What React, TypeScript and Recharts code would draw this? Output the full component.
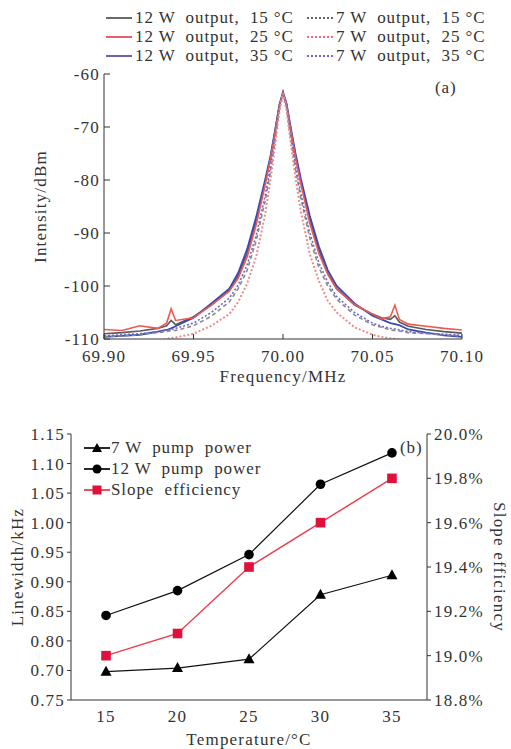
import { Line, LineChart, XAxis, YAxis } from "recharts";

// ---- panel (a): spectra ----
const FREQ = [
  69.9, 69.91, 69.92, 69.93, 69.935, 69.9375, 69.94, 69.95, 69.96, 69.97, 69.975, 69.98,
  69.985, 69.99, 69.993, 69.996, 69.998, 70.0, 70.002, 70.004, 70.007, 70.01, 70.015,
  70.02, 70.025, 70.03, 70.04, 70.05, 70.055, 70.06, 70.0625, 70.065, 70.07, 70.08,
  70.09, 70.1,
];
const OUT12_15 = [
  -109, -108.8, -108.5, -108, -107.5, -106.5, -107.3, -105.8, -103.6, -100.8, -98, -93.8,
  -87.8, -80.6, -75.8, -70, -65.9, -63.5, -65.8, -69.8, -75.4, -80.3, -87.5, -93.2, -97.6,
  -100.5, -103.6, -105.3, -106, -106.3, -105.6, -106.8, -107.6, -108.2, -108.6, -108.9,
];
const OUT12_25 = [
  -108.2, -108.4, -107.5, -108, -107, -104.3, -106.5, -106, -103.6, -101, -98.5, -94.5,
  -88.5, -81, -76, -70.2, -66, -63.5, -65.9, -70, -75.8, -80.8, -88.2, -93.8, -97.8,
  -100.6, -103.5, -105.3, -106.2, -105.8, -103.6, -106.3, -107.2, -107.6, -108, -108.3,
];
const OUT12_35 = [
  -109.6, -109.4, -109.2, -108.6, -108.3, -108, -107.6, -106, -103.3, -100.5, -97.5, -93,
  -87, -80, -75.5, -69.8, -65.8, -63.4, -65.6, -69.5, -75, -79.8, -86.8, -92.5, -97, -100,
  -103.3, -105.6, -106.3, -107, -107.2, -107.4, -108.2, -108.8, -109.3, -109.6,
];
const OUT7_15 = [
  -109.6, -109.4, -109.2, -108.8, -108.6, -108.4, -108.4, -107.5, -105.7, -103, -100.5, -97,
  -91.5, -84, -78.5, -71.5, -66.5, -63.6, -66.4, -71.3, -78, -83.5, -91, -96.5, -100,
  -102.5, -105.5, -107.3, -107.8, -108.3, -108.4, -108.5, -108.8, -109, -109.2, -109.4,
];
const OUT7_25 = [
  -111, -111, -110.8, -110.3, -110, -109.8, -109.7, -109, -107.5, -105.3, -103, -99.5,
  -94.5, -86.5, -80, -72.5, -67, -63.7, -66.9, -72.2, -79.6, -86, -94, -99, -102.8, -105,
  -107.8, -109.2, -109.6, -109.9, -110, -110.2, -110.5, -110.8, -111, -111,
];
const OUT7_35 = [
  -109.4, -109.2, -109, -108.6, -108.3, -108.2, -108, -107, -105, -102.3, -99.8, -96, -90.5,
  -83, -77.5, -71, -66.2, -63.5, -66.1, -70.8, -77.2, -82.6, -90, -95.6, -99.3, -102, -105,
  -107, -107.6, -108, -108.1, -108.3, -108.6, -108.9, -109.1, -109.3,
];
const FREQ_TICKS = [69.9, 69.95, 70.0, 70.05, 70.1];
const DBM_TICKS = [-110, -100, -90, -80, -70, -60];

// ---- panel (b): linewidth ----
const TEMPS = [15, 20, 25, 30, 35];
const LW_7W = [0.748, 0.754, 0.769, 0.878, 0.911];
const LW_12W = [0.843, 0.885, 0.946, 1.065, 1.118];
const SLOPE = [19.0, 19.1, 19.4, 19.6, 19.8];
const LW_TICKS = [0.7, 0.75, 0.8, 0.85, 0.9, 0.95, 1.0, 1.05, 1.1, 1.15];
const LW_TICK_LABELS = ["0.75", "0.70", "0.80", "0.85", "0.90", "0.95", "1.00", "1.05", "1.10", "1.15"];
const SLOPE_TICKS = [18.8, 19.0, 19.2, 19.4, 19.6, 19.8, 20.0];

const spectra = FREQ.map((f, i) => ({
  f,
  s15: OUT12_15[i],
  s25: OUT12_25[i],
  s35: OUT12_35[i],
  d15: OUT7_15[i],
  d25: OUT7_25[i],
  d35: OUT7_35[i],
}));
const lwRows = TEMPS.map((t, i) => ({ t, w7: LW_7W[i], w12: LW_12W[i], slope: SLOPE[i] }));

const FONT = "'Liberation Serif', 'Times New Roman', serif";
const INK = "#333";
const tickStyle = { fill: INK, fontSize: 17, fontFamily: FONT };

const SERIES_A = [
  { key: "s15", color: "#5a5a5a", dash: undefined, width: 1.6 },
  { key: "s35", color: "#3a4cb2", dash: undefined, width: 1.8 },
  { key: "s25", color: "#ee5a52", dash: undefined, width: 1.6 },
  { key: "d15", color: "#8a8a8a", dash: "4 3", width: 1.6 },
  { key: "d35", color: "#6a6ac8", dash: "2 2", width: 1.6 },
  { key: "d25", color: "#f08a8a", dash: "2 2", width: 2 },
];

const LEGEND_A = [
  { col: 0, row: 0, color: "#5a5a5a", dash: undefined, text: "12 W  output,  15 °C" },
  { col: 0, row: 1, color: "#ec4a5a", dash: undefined, text: "12 W  output,  25 °C" },
  { col: 0, row: 2, color: "#6050a8", dash: undefined, text: "12 W  output,  35 °C" },
  { col: 1, row: 0, color: "#666", dash: "2 2", text: "7 W  output,  15 °C" },
  { col: 1, row: 1, color: "#f06a7a", dash: "2 2", text: "7 W  output,  25 °C" },
  { col: 1, row: 2, color: "#6a6ac8", dash: "2 2", text: "7 W  output,  35 °C" },
];

function Triangle(props: any) {
  const { cx, cy } = props;
  if (cx == null || cy == null) return <g />;
  return <polygon points={`${cx},${cy - 6} ${cx - 5.5},${cy + 4} ${cx + 5.5},${cy + 4}`} fill="#000" />;
}
function Dot(props: any) {
  const { cx, cy } = props;
  if (cx == null || cy == null) return <g />;
  return <circle cx={cx} cy={cy} r={4.8} fill="#000" />;
}
function Square(props: any) {
  const { cx, cy } = props;
  if (cx == null || cy == null) return <g />;
  return <rect x={cx - 4.8} y={cy - 4.8} width={9.6} height={9.6} fill="#e0103c" />;
}

function LegendLine({ color, dash, marker }: { color: string; dash?: string; marker?: string }) {
  return (
    <svg width={26} height={12} style={{ display: "block" }}>
      <line x1={0} x2={26} y1={6} y2={6} stroke={color} strokeWidth={1.8} strokeDasharray={dash} />
      {marker === "tri" && <polygon points="13,1 8,10 18,10" fill="#000" />}
      {marker === "dot" && <circle cx={13} cy={6} r={4.5} fill="#000" />}
      {marker === "sq" && <rect x={8.5} y={1.5} width={9} height={9} fill="#e0103c" />}
    </svg>
  );
}

const textBox = {
  position: "absolute" as const,
  fontFamily: FONT,
  fontSize: 17,
  color: INK,
  letterSpacing: "0.9px",
  whiteSpace: "pre" as const,
  lineHeight: "18px",
};

export default function App() {
  return (
    <div style={{ position: "relative", width: 511, height: 749, background: "#fff", fontFamily: FONT, letterSpacing: "1.2px" }}>
      <style>{"body{margin:0}"}</style>

      <div style={{ position: "absolute", left: 0, top: 0 }}>
        <LineChart width={511} height={400} data={spectra} margin={{ top: 74, right: 49, bottom: 31, left: 30 }}>
          <XAxis
            dataKey="f"
            type="number"
            domain={[69.9, 70.1]}
            ticks={FREQ_TICKS}
            tickFormatter={(v: number) => v.toFixed(2)}
            tick={tickStyle}
            tickSize={-5}
            tickMargin={16}
            height={30}
            stroke="#333"
            allowDataOverflow
            label={{ value: "Frequency/MHz", position: "bottom", offset: 1, fill: INK, fontSize: 17 }}
          />
          <XAxis xAxisId="top" orientation="top" dataKey="f" type="number" domain={[69.9, 70.1]} tick={false} tickLine={false} height={0} stroke="#333" />
          <YAxis
            type="number"
            domain={[-110, -60]}
            ticks={DBM_TICKS}
            tick={tickStyle}
            tickSize={-6}
            tickMargin={10}
            width={74}
            stroke="#333"
            allowDataOverflow
            label={{ value: "Intensity/dBm", angle: -90, position: "insideLeft", offset: 10, fill: INK, fontSize: 17, style: { textAnchor: "middle" } }}
          />
          <YAxis yAxisId="r" orientation="right" type="number" domain={[-110, -60]} tick={false} tickLine={false} width={0} stroke="#333" />
          {SERIES_A.map((s) => (
            <Line
              key={s.key}
              dataKey={s.key}
              type="linear"
              stroke={s.color}
              strokeWidth={s.width}
              strokeDasharray={s.dash}
              dot={false}
              isAnimationActive={false}
            />
          ))}
        </LineChart>
      </div>

      {LEGEND_A.map((l) => (
        <div
          key={l.text + l.col}
          style={{ ...textBox, left: l.col === 0 ? 106 : 307, top: [9, 28, 47][l.row], display: "flex", alignItems: "center", gap: 3 }}
        >
          <LegendLine color={l.color} dash={l.dash} />
          <span>{l.text}</span>
        </div>
      ))}
      <div style={{ ...textBox, left: 435, top: 79 }}>(a)</div>

      <div style={{ position: "absolute", left: 0, top: 400 }}>
        <LineChart width={511} height={349} data={lwRows} margin={{ top: 34, right: 4, bottom: 19, left: 11 }}>
          <XAxis
            dataKey="t"
            type="number"
            domain={[12.55, 37.45]}
            ticks={TEMPS}
            tick={tickStyle}
            tickLine={false}
            tickMargin={4}
            height={30}
            stroke="#333"
            label={{ value: "Temperature/°C", position: "bottom", offset: 3, fill: INK, fontSize: 17 }}
          />
          <XAxis xAxisId="top" orientation="top" dataKey="t" type="number" domain={[12.55, 37.45]} tick={false} tickLine={false} height={0} stroke="#333" />
          <YAxis
            yAxisId="lw"
            type="number"
            domain={[0.7, 1.15]}
            ticks={LW_TICKS}
            tickFormatter={(v: number) => LW_TICK_LABELS[LW_TICKS.findIndex((t) => Math.abs(t - v) < 1e-6)] ?? ""}
            tick={tickStyle}
            tickSize={4}
            tickMargin={2}
            width={60}
            stroke="#333"
            label={{ value: "Linewidth/kHz", angle: -90, position: "insideLeft", offset: 6, fill: INK, fontSize: 17, style: { textAnchor: "middle" } }}
          />
          <YAxis
            yAxisId="se"
            orientation="right"
            type="number"
            domain={[18.8, 20.0]}
            ticks={SLOPE_TICKS}
            tickFormatter={(v: number) => `${v.toFixed(1)}%`}
            tick={tickStyle}
            tickSize={4}
            tickMargin={3}
            width={80}
            stroke="#333"
            label={{ value: "Slope efficiency", angle: 90, position: "insideRight", offset: 7, fill: INK, fontSize: 17, style: { textAnchor: "middle" } }}
          />
          <Line yAxisId="lw" dataKey="w7" stroke="#111" strokeWidth={1.2} dot={<Triangle />} isAnimationActive={false} />
          <Line yAxisId="lw" dataKey="w12" stroke="#111" strokeWidth={1.2} dot={<Dot />} isAnimationActive={false} />
          <Line yAxisId="se" dataKey="slope" stroke="#f03a4a" strokeWidth={1.4} dot={<Square />} isAnimationActive={false} />
        </LineChart>
      </div>

      {[
        { text: "7 W  pump  power", marker: "tri", color: "#111", top: 439 },
        { text: "12 W  pump  power", marker: "dot", color: "#111", top: 460 },
        { text: "Slope  efficiency", marker: "sq", color: "#f03a4a", top: 481 },
      ].map((l) => (
        <div key={l.text} style={{ ...textBox, left: 84, top: l.top, display: "flex", alignItems: "center", gap: 1 }}>
          <LegendLine color={l.color} marker={l.marker} />
          <span>{l.text}</span>
        </div>
      ))}
      <div style={{ ...textBox, left: 400, top: 439 }}>(b)</div>
    </div>
  );
}
